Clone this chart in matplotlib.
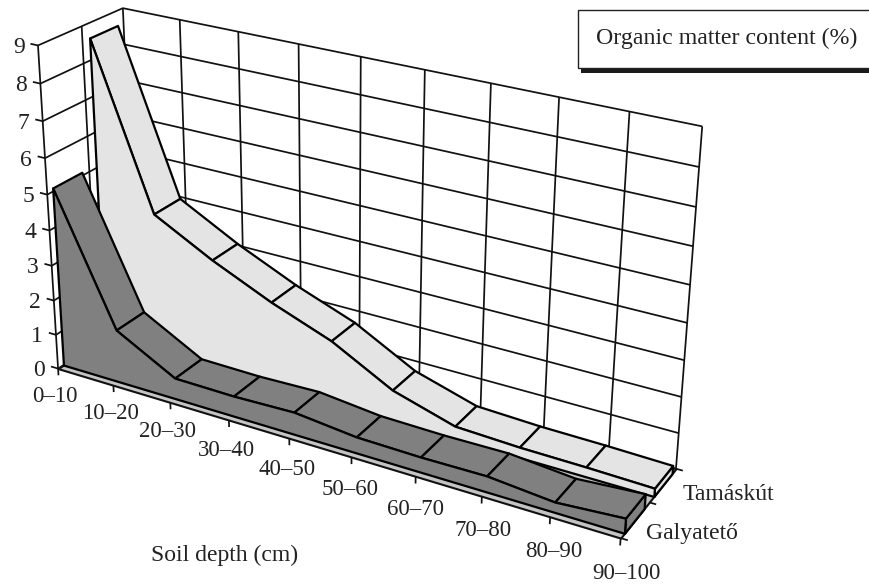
import numpy as np
import matplotlib
matplotlib.use('Agg')
import matplotlib.pyplot as plt
from matplotlib.patches import Rectangle
from mpl_toolkits.mplot3d import proj3d
from mpl_toolkits.mplot3d.art3d import Poly3DCollection, Line3DCollection

plt.rcParams['font.family'] = ['Liberation Serif', 'DejaVu Serif']

depths = ['0–10', '10–20', '20–30', '30–40', '40–50', '50–60', '60–70', '70–80', '80–90', '90–100']
sites = ['Galyatető', 'Tamáskút']
galyateto = [5.1, 1.51, 0.6, 0.58, 0.63, 0.45, 0.42, 0.44, 0.28, 0.41]
tamaskut = [8.6, 4.09, 3.2, 2.44, 1.8, 0.88, 0.36, 0.29, 0.27, 0.23]
value_ticks = [0, 1, 2, 3, 4, 5, 6, 7, 8, 9]

# where known chart corners sit in the picture (cat, depth, value -> px, py, weight)
anchors = [(0, 0, 0, 58, 368, 8), (0, 0, 9, 37, 47, 8), (0, 2, 9, 124, 7, 8), (0, 2, 0, 135, 333, 1),
           (9, 2, 9, 702, 126, 8), (9, 2, 0, 675, 470, 8), (9, 0, 0, 622, 537, 8),
           (1, 2, 9, 179, 19, 1), (8, 2, 9, 630, 112, 1), (1, 0, 0, 112, 387, 1),
           (2, 0, 0, 168, 402, 1), (6, 0, 0, 412, 478, 1), (7, 0, 0, 479, 498, 1), (8, 0, 0, 548, 520, 1)]


def fit_projection(rows):
    A, b = [], []
    for c, s, v, px, py, w in rows:
        A.append(np.array([c, s, v, 1, 0, 0, 0, 0, -px * c, -px * s, -px * v]) * w)
        b.append(px * w)
        A.append(np.array([0, 0, 0, 0, c, s, v, 1, -py * c, -py * s, -py * v]) * w)
        b.append(py * w)
    p = np.linalg.lstsq(np.array(A, float), np.array(b, float), rcond=None)[0]
    return np.array([[p[0], p[1], p[2], p[3]],
                     [p[4], p[5], p[6], p[7]],
                     [0, 1, 0, 0],
                     [p[8], p[9], p[10], 1]])


fig = plt.figure(figsize=(8.7, 5.85), dpi=100)
ax = fig.add_axes([0, 0, 1, 1], projection='3d', computed_zorder=False)
ax.set_axis_off()
proj = fit_projection(anchors)
ax.get_proj = lambda: proj
ax.apply_aspect = lambda position=None: None
ax.viewLim.intervalx = (0, 870)
ax.viewLim.intervaly = (585, 0)

cats = np.arange(len(depths))
last = cats[-1]


def label(c, s, v, text, dx, dy, ha='center', size=17):
    # text sits a few pixels away from a projected chart point
    px, py, _ = proj3d.proj_transform(c, s, v, proj)
    fig.text((px + dx) / 870, 1 - (py + dy) / 585, text, ha=ha, va='center', fontsize=size, color='#222222')


# walls and ticks
segs = []
for v in value_ticks:
    segs.append([(0, 0, v), (0, 2, v), (last, 2, v)])
    segs.append([(-0.13, 0, v), (0, 0, v)])
    label(0, 0, v, str(v), -19, 2)
for c in cats:
    segs.append([(c, 2, 0), (c, 2, 9)])
for s in (0, 1):
    segs.append([(0, s, 0), (0, s, 9)])
ax.add_collection3d(Line3DCollection(segs, colors='#111111', linewidths=1.25, zorder=1), autolim=False)

# floor
floor = [[(0, 0, 0), (last, 0, 0), (last, 2, 0), (0, 2, 0)]]
ax.add_collection3d(Poly3DCollection(floor, facecolors='#c4c4c4', edgecolors='#111111', linewidths=1.5, zorder=2),
                    autolim=False)
segs = [[(c, 0, 0), (c, 0, -0.2)] for c in cats]
segs += [[(last, s, 0), (last + 0.1, s, 0)] for s in (0, 1, 2)]
ax.add_collection3d(Line3DCollection(segs, colors='#111111', linewidths=1.25, zorder=2), autolim=False)
for c in cats:
    label(c, 0, 0, depths[c], -3 + 0.15 * c * c - 0.4 * c, 27.5 + 0.9 * c, size=16.5)
label(last, 2, 0, sites[1], 7, 26, ha='left')
label(last, 1, 0, sites[0], -3, 31, ha='left')


def ribbon(values, s0, s1, colour, z):
    edge = dict(edgecolors='#000000', linewidths=1.6)
    cap = [[(last, s0, 0), (last, s1, 0), (last, s1, values[-1]), (last, s0, values[-1])]]
    ax.add_collection3d(Poly3DCollection(cap, facecolors=colour, zorder=z, **edge), autolim=False)
    tops = [[(c, s0, values[c]), (c + 1, s0, values[c + 1]), (c + 1, s1, values[c + 1]), (c, s1, values[c])]
            for c in cats[:-1]]
    for i, top in enumerate(tops):
        ax.add_collection3d(Poly3DCollection([top], facecolors=colour, zorder=z + 0.01 * i, **edge), autolim=False)
    front = [[(0, s0, 0)] + [(c, s0, values[c]) for c in cats] + [(last, s0, 0)]]
    ax.add_collection3d(Poly3DCollection(front, facecolors=colour, zorder=z + 0.5, **edge), autolim=False)


ribbon(tamaskut, 1.17, 1.85, '#e4e4e4', 3)
ribbon(galyateto, 0.13, 0.82, '#808080', 5)

# title box with its shadow and the axis title
fig.add_artist(Rectangle((581 / 870, 1 - 73 / 585), 289 / 870, 6 / 585, transform=fig.transFigure,
                         facecolor='#1a1a1a', edgecolor='none'))
fig.add_artist(Rectangle((577.5 / 870, 1 - 68 / 585), 300 / 870, 58 / 585, transform=fig.transFigure,
                         facecolor='white', edgecolor='#222222', linewidth=1.0))
fig.text(727 / 870, 1 - 38 / 585, 'Organic matter content (%)', ha='center', va='center', fontsize=17.2, color='#222222')
fig.text(225 / 870, 1 - 555 / 585, 'Soil depth (cm)', ha='center', va='center', fontsize=17, color='#222222')

fig.savefig('out.png', dpi=100)
